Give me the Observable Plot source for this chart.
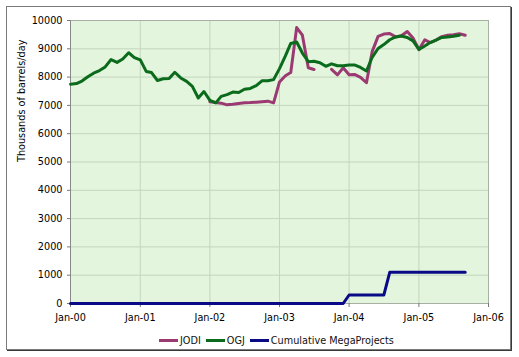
<!DOCTYPE html>
<html>
<head>
<meta charset="utf-8">
<script src="https://cdn.jsdelivr.net/npm/d3@7"></script>
<script src="https://cdn.jsdelivr.net/npm/@observablehq/plot@0.6"></script>
<style>
  html, body { margin: 0; padding: 0; background: #fff; }
  #wrap { position: relative; width: 519px; height: 357px; font-family: "DejaVu Sans", Verdana, sans-serif; }
  #border { position: absolute; left: 6px; top: 6px; width: 503px; height: 342px; border: 1px solid #7a7a7a; box-shadow: 1px 1px 0 #3a3a3a; pointer-events: none; }
  #legend { position: absolute; top: 335px; left: 159px; display: flex; align-items: center; font-size: 9.7px; color: #111; white-space: nowrap; }
  .item { display: flex; align-items: center; margin-right: 5px; }
  .sw { width: 19px; height: 3px; margin-right: 2px; }
</style>
</head>
<body>
<div id="wrap"><div id="border"></div><div id="legend"></div></div>
<script>
// Monthly series starting Jan-2000
const startMonth = "2000-01-01";
const seriesNames = ["JODI", "OGJ", "Cumulative MegaProjects"];
const seriesColors = ["#9b3a72", "#0b6b1c", "#0a0a86"];
const yTicks = [0, 1000, 2000, 3000, 4000, 5000, 6000, 7000, 8000, 9000, 10000];
const xTickYears = ["2000-01-01", "2001-01-01", "2002-01-01", "2003-01-01", "2004-01-01", "2005-01-01", "2006-01-01"];

// OGJ: Jan-00 .. Aug-05
const ogj = [
  7750, 7770, 7860, 8010, 8140, 8230, 8360, 8620, 8520, 8640, 8860, 8690,
  8610, 8200, 8160, 7880, 7940, 7950, 8170, 7970, 7850, 7670, 7260, 7490,
  7180, 7090, 7320, 7380, 7470, 7455, 7570, 7600, 7700, 7870, 7870, 7910,
  8300, 8750, 9190, 9240, 8850, 8545, 8560, 8510, 8380, 8470, 8400, 8400,
  8425, 8425, 8340, 8215, 8700, 9010, 9150, 9320, 9420, 9450, 9400, 9280,
  8980, 9100, 9220, 9310, 9400, 9420, 9440, 9480
];

// JODI: Jan-00 .. Sep-05 (null = no data)
const jodi = [
  null, null, null, null, null, null, null, null, null, null, null, null,
  null, null, null, null, null, null, null, null, null, null, null, null,
  7130, 7100, 7080, 7020, 7040, 7070, 7090, 7100, 7115, 7130, 7150, 7090,
  7830, 8050, 8160, 9750, 9480, 8330, 8270, null, null, 8275, 8080, 8330,
  8080, 8090, 7990, 7800, 8900, 9440, 9520, 9540, 9420, 9460, 9610, 9380,
  8970, 9320, 9220, 9310, 9430, 9480, 9500, 9530, 9480
];

// Cumulative MegaProjects: Jan-00 .. Sep-05
const mega = [
  0, 0, 0, 0, 0, 0, 0, 0, 0, 0, 0, 0,
  0, 0, 0, 0, 0, 0, 0, 0, 0, 0, 0, 0,
  0, 0, 0, 0, 0, 0, 0, 0, 0, 0, 0, 0,
  0, 0, 0, 0, 0, 0, 0, 0, 0, 0, 0, 0,
  300, 300, 300, 300, 300, 300, 300, 1100, 1100, 1100, 1100, 1100,
  1100, 1100, 1100, 1100, 1100, 1100, 1100, 1100, 1100
];

const t0 = new Date(startMonth);
const toRows = (arr) => arr.map((v, i) => ({date: d3.utcMonth.offset(t0, i), value: v}));
const rowsJodi = toRows(jodi);
const rowsOgj = toRows(ogj);
const rowsMega = toRows(mega);

const fmt = d3.utcFormat("%b-%y");

const chart = Plot.plot({
  width: 519,
  height: 357,
  marginLeft: 70,
  marginRight: 31,
  marginTop: 20,
  marginBottom: 54,
  style: {fontFamily: "DejaVu Sans, Verdana, sans-serif", fontSize: "9.7px", color: "#000", background: "transparent"},
  x: {type: "utc", domain: [new Date(xTickYears[0]), new Date(xTickYears[xTickYears.length - 1])]},
  y: {domain: [0, 10000]},
  marks: [
    Plot.frame({fill: "#e3f5dc", stroke: null}),
    Plot.gridY(yTicks, {stroke: "#c3d6be", strokeOpacity: 1}),
    Plot.gridX(xTickYears.map(d => new Date(d)), {stroke: "#c3d6be", strokeOpacity: 1}),
    Plot.frame({stroke: "#a8b0a6", fill: null}),
    Plot.axisY(yTicks, {tickSize: 3, tickPadding: 5, tickFormat: d => String(d), label: null, stroke: "#777", fill: "#000"}),
    Plot.ruleX([new Date(xTickYears[0])], {stroke: "#888"}),
    Plot.axisX(xTickYears.map(d => new Date(d)), {tickSize: 4, tickPadding: 7, tickFormat: fmt, label: null, stroke: "#777", fill: "#000"}),
    Plot.text(["Thousands of barrels/day"], {frameAnchor: "left", dx: -49, rotate: -90, fill: "#000"}),
    Plot.lineY(rowsJodi, {x: "date", y: "value", stroke: seriesColors[0], strokeWidth: 3, defined: d => d.value != null}),
    Plot.lineY(rowsOgj, {x: "date", y: "value", stroke: seriesColors[1], strokeWidth: 3}),
    Plot.lineY(rowsMega, {x: "date", y: "value", stroke: seriesColors[2], strokeWidth: 3})
  ]
});
document.getElementById("wrap").prepend(chart);

const legend = document.getElementById("legend");
seriesNames.forEach((name, i) => {
  const item = document.createElement("div");
  item.className = "item";
  const sw = document.createElement("span");
  sw.className = "sw";
  sw.style.background = seriesColors[i];
  const label = document.createElement("span");
  label.textContent = name;
  item.append(sw, label);
  legend.append(item);
});
</script>
</body>
</html>
